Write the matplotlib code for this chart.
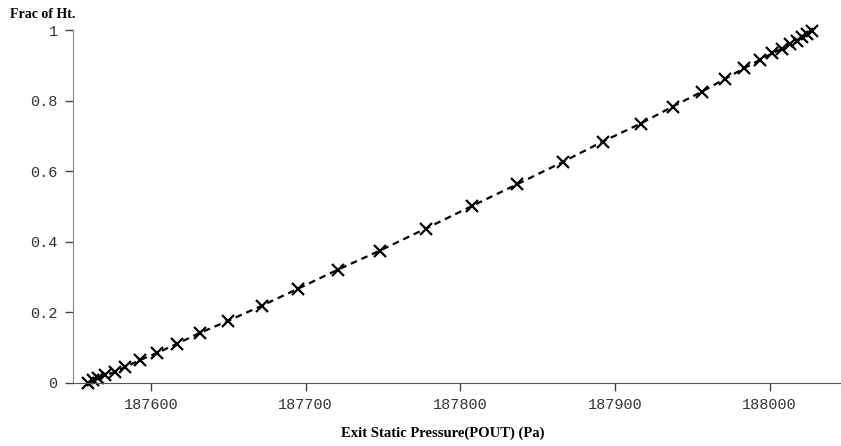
import numpy as np
from matplotlib import pyplot as plt

# values
pressure = [187559.3, 187562.5, 187565.8, 187570.3, 187576.7, 187583.2, 187592.9,
            187603.9, 187616.8, 187631.7, 187649.8, 187671.7, 187695.0, 187720.8,
            187748.0, 187777.7, 187807.4, 187836.5, 187866.2, 187892.1, 187916.6,
            187937.3, 187956.1, 187970.9, 187983.2, 187993.5, 188001.7, 188007.8,
            188013.0, 188017.4, 188020.7, 188024.0, 188027.2]
frac_ht = [0.0, 0.009, 0.014, 0.023, 0.031, 0.045, 0.065,
           0.085, 0.111, 0.142, 0.176, 0.219, 0.267, 0.321,
           0.375, 0.4375, 0.501, 0.5625, 0.626, 0.684, 0.735,
           0.783, 0.825, 0.861, 0.891, 0.915, 0.934, 0.947,
           0.960, 0.970, 0.980, 0.989, 0.998]

xticks = [187600, 187700, 187800, 187900, 188000]
yticks = [0, 0.2, 0.4, 0.6, 0.8, 1]
ytick_labels = ['0', '0.2', '0.4', '0.6', '0.8', '1']

fig = plt.figure(figsize=(8.41, 4.46), dpi=100)
ax = fig.add_axes([73/841, 1 - 383/446, (840 - 73)/841, (383 - 30)/446])

ax.plot(pressure, frac_ht, color='black', linestyle=(0, (3, 2.2)), linewidth=1.6,
        marker='x', markersize=8, markeredgewidth=1.6, clip_on=False)

ax.set_xlim(187549.6, 188045.5)
ax.set_ylim(0, 1)

ax.spines['top'].set_visible(False)
ax.spines['right'].set_visible(False)
ax.spines['left'].set_color('#888888')
ax.spines['bottom'].set_color('#555555')

ax.set_xticks(xticks)
ax.set_xticklabels([str(t) for t in xticks])
ax.set_yticks(yticks)
ax.set_yticklabels(ytick_labels)
ax.tick_params(axis='both', direction='out', length=6, width=1, color='#444444',
               labelcolor='#333333', labelsize=11)
ax.tick_params(axis='y', pad=5)
ax.tick_params(axis='x', pad=5)
for lab in ax.get_xticklabels() + ax.get_yticklabels():
    lab.set_family('Liberation Mono')

fig.text(10/841, 1 - 14/446, 'Frac of Ht.', family='Liberation Serif',
         fontweight='bold', fontsize=10, ha='left', va='center')
fig.text(443/841, 1 - 433/446, 'Exit Static Pressure(POUT) (Pa)', family='Liberation Serif',
         fontweight='bold', fontsize=10.5, ha='center', va='center')

plt.savefig('out.png', dpi=100)
